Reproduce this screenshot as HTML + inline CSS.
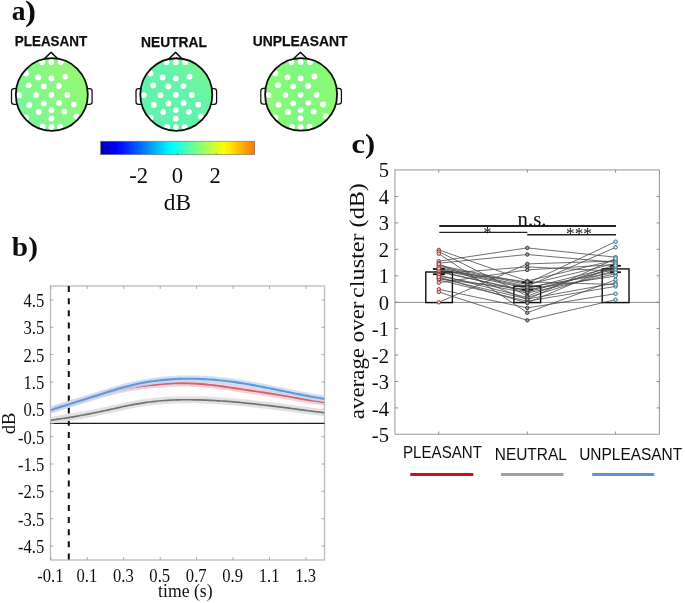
<!DOCTYPE html>
<html><head><meta charset="utf-8"><title>figure</title>
<style>html,body{margin:0;padding:0;background:#fff;}svg{display:block;}text{font-family:"Liberation Serif",serif;fill:#111;}.sans{font-family:"Liberation Sans",sans-serif;}</style></head><body>
<svg width="685" height="603" viewBox="0 0 685 603">
<defs>
<linearGradient id="cb" x1="0" y1="0" x2="1" y2="0"><stop offset="0.00%" stop-color="rgb(0,0,173)"/><stop offset="4.17%" stop-color="rgb(0,0,204)"/><stop offset="8.33%" stop-color="rgb(0,0,234)"/><stop offset="12.50%" stop-color="rgb(0,10,255)"/><stop offset="16.67%" stop-color="rgb(0,40,255)"/><stop offset="20.83%" stop-color="rgb(0,71,255)"/><stop offset="25.00%" stop-color="rgb(0,101,255)"/><stop offset="29.17%" stop-color="rgb(0,132,255)"/><stop offset="33.33%" stop-color="rgb(0,163,255)"/><stop offset="37.50%" stop-color="rgb(0,193,255)"/><stop offset="41.67%" stop-color="rgb(0,224,255)"/><stop offset="45.83%" stop-color="rgb(0,254,255)"/><stop offset="50.00%" stop-color="rgb(30,255,225)"/><stop offset="54.17%" stop-color="rgb(60,255,195)"/><stop offset="58.33%" stop-color="rgb(91,255,164)"/><stop offset="62.50%" stop-color="rgb(121,255,134)"/><stop offset="66.67%" stop-color="rgb(152,255,103)"/><stop offset="70.83%" stop-color="rgb(182,255,73)"/><stop offset="75.00%" stop-color="rgb(213,255,42)"/><stop offset="79.17%" stop-color="rgb(243,255,12)"/><stop offset="83.33%" stop-color="rgb(255,236,0)"/><stop offset="87.50%" stop-color="rgb(255,206,0)"/><stop offset="91.67%" stop-color="rgb(255,175,0)"/><stop offset="95.83%" stop-color="rgb(255,145,0)"/><stop offset="100.00%" stop-color="rgb(255,114,0)"/></linearGradient>
<linearGradient id="hp" x1="0" y1="0.8" x2="1" y2="0.2"><stop offset="0" stop-color="rgb(120,246,158)"/><stop offset="0.45" stop-color="rgb(134,247,134)"/><stop offset="1" stop-color="rgb(150,249,112)"/></linearGradient>
<linearGradient id="hn" x1="0" y1="1" x2="1" y2="0"><stop offset="0" stop-color="rgb(96,242,176)"/><stop offset="0.6" stop-color="rgb(100,243,172)"/><stop offset="1" stop-color="rgb(128,247,136)"/></linearGradient>
<linearGradient id="hu" x1="0" y1="0.5" x2="1" y2="0.5"><stop offset="0" stop-color="rgb(142,250,120)"/><stop offset="0.5" stop-color="rgb(124,247,128)"/><stop offset="1" stop-color="rgb(144,250,116)"/></linearGradient>
<filter id="soft" x="-5%" y="-5%" width="110%" height="110%"><feGaussianBlur stdDeviation="0.55"/></filter>
</defs>
<rect width="685" height="603" fill="#fff"/>
<g filter="url(#soft)">
<text transform="translate(11.80,19.80) scale(1.0,1.0)" font-size="27.5" text-anchor="start" font-weight="bold">a</text>
<text transform="translate(24.90,21.00) scale(1.2,1.07)" font-size="27.5" text-anchor="start" font-weight="bold">)</text>
<g>
<path d="M44.2,58.9 L51.1,52.3 L57.8,58.9" fill="none" stroke="#111" stroke-width="1.5" stroke-linejoin="round"/>
<rect x="11.5" y="88.5" width="7" height="15.8" rx="2.6" ry="2.6" fill="#fff" stroke="#111" stroke-width="1.25"/>
<rect x="85.1" y="88.5" width="7" height="15.8" rx="2.6" ry="2.6" fill="#fff" stroke="#111" stroke-width="1.25"/>
<ellipse cx="51.8" cy="94.5" rx="36.0" ry="36.3" fill="url(#hp)" stroke="none"/>
<clipPath id="chp"><ellipse cx="51.8" cy="94.5" rx="36.0" ry="36.3"/></clipPath>
<g clip-path="url(#chp)" fill="#fff">
<circle cx="42.1" cy="62.1" r="2.9"/>
<circle cx="51.3" cy="62.1" r="2.9"/>
<circle cx="60.7" cy="62.1" r="2.9"/>
<circle cx="26.1" cy="73.4" r="2.9"/>
<circle cx="38.2" cy="77.4" r="2.9"/>
<circle cx="51.3" cy="78.5" r="2.9"/>
<circle cx="65.1" cy="76.6" r="2.9"/>
<circle cx="28.7" cy="85.3" r="2.9"/>
<circle cx="43.9" cy="86.4" r="2.9"/>
<circle cx="58.8" cy="86.0" r="2.9"/>
<circle cx="19.3" cy="95.2" r="2.9"/>
<circle cx="36.0" cy="95.2" r="2.9"/>
<circle cx="51.3" cy="94.9" r="2.9"/>
<circle cx="67.3" cy="94.9" r="2.9"/>
<circle cx="29.2" cy="104.9" r="2.9"/>
<circle cx="43.9" cy="103.4" r="2.9"/>
<circle cx="59.1" cy="102.9" r="2.9"/>
<circle cx="73.8" cy="104.6" r="2.9"/>
<circle cx="38.7" cy="112.0" r="2.9"/>
<circle cx="51.3" cy="110.0" r="2.9"/>
<circle cx="64.3" cy="111.7" r="2.9"/>
<circle cx="26.1" cy="117.5" r="2.9"/>
<circle cx="51.3" cy="118.6" r="2.9"/>
<circle cx="76.5" cy="116.3" r="2.9"/>
<circle cx="42.6" cy="126.7" r="2.9"/>
<circle cx="51.3" cy="127.0" r="2.9"/>
<circle cx="60.2" cy="126.7" r="2.9"/>
</g>
<ellipse cx="51.8" cy="94.5" rx="36.0" ry="36.3" fill="none" stroke="#111" stroke-width="1.8"/>
<text class="sans" x="14.8" y="46.4" font-size="15" font-weight="bold" stroke="#111" stroke-width="0.25" textLength="72.4" lengthAdjust="spacingAndGlyphs">PLEASANT</text>
</g>
<g>
<path d="M168.7,59.0 L175.6,52.4 L182.3,59.0" fill="none" stroke="#111" stroke-width="1.5" stroke-linejoin="round"/>
<rect x="136.0" y="88.6" width="7" height="15.8" rx="2.6" ry="2.6" fill="#fff" stroke="#111" stroke-width="1.25"/>
<rect x="209.6" y="88.6" width="7" height="15.8" rx="2.6" ry="2.6" fill="#fff" stroke="#111" stroke-width="1.25"/>
<ellipse cx="176.3" cy="94.55000000000001" rx="36.0" ry="36.3" fill="url(#hn)" stroke="none"/>
<clipPath id="chn"><ellipse cx="176.3" cy="94.55000000000001" rx="36.0" ry="36.3"/></clipPath>
<g clip-path="url(#chn)" fill="#fff">
<circle cx="166.6" cy="62.2" r="2.9"/>
<circle cx="175.8" cy="62.2" r="2.9"/>
<circle cx="185.2" cy="62.2" r="2.9"/>
<circle cx="150.6" cy="73.5" r="2.9"/>
<circle cx="162.7" cy="77.5" r="2.9"/>
<circle cx="175.8" cy="78.6" r="2.9"/>
<circle cx="189.6" cy="76.7" r="2.9"/>
<circle cx="153.2" cy="85.4" r="2.9"/>
<circle cx="168.4" cy="86.5" r="2.9"/>
<circle cx="183.3" cy="86.1" r="2.9"/>
<circle cx="143.8" cy="95.2" r="2.9"/>
<circle cx="160.5" cy="95.2" r="2.9"/>
<circle cx="175.8" cy="95.0" r="2.9"/>
<circle cx="191.8" cy="95.0" r="2.9"/>
<circle cx="153.7" cy="105.0" r="2.9"/>
<circle cx="168.4" cy="103.5" r="2.9"/>
<circle cx="183.6" cy="103.0" r="2.9"/>
<circle cx="198.3" cy="104.7" r="2.9"/>
<circle cx="163.2" cy="112.1" r="2.9"/>
<circle cx="175.8" cy="110.1" r="2.9"/>
<circle cx="188.8" cy="111.8" r="2.9"/>
<circle cx="150.6" cy="117.6" r="2.9"/>
<circle cx="175.8" cy="118.7" r="2.9"/>
<circle cx="201.0" cy="116.4" r="2.9"/>
<circle cx="167.1" cy="126.8" r="2.9"/>
<circle cx="175.8" cy="127.1" r="2.9"/>
<circle cx="184.7" cy="126.8" r="2.9"/>
</g>
<ellipse cx="176.3" cy="94.55000000000001" rx="36.0" ry="36.3" fill="none" stroke="#111" stroke-width="1.8"/>
<text class="sans" x="141.0" y="47.4" font-size="15" font-weight="bold" stroke="#111" stroke-width="0.25" textLength="65.9" lengthAdjust="spacingAndGlyphs">NEUTRAL</text>
</g>
<g>
<path d="M293.5,58.8 L300.4,52.2 L307.1,58.8" fill="none" stroke="#111" stroke-width="1.5" stroke-linejoin="round"/>
<rect x="260.8" y="88.4" width="7" height="15.8" rx="2.6" ry="2.6" fill="#fff" stroke="#111" stroke-width="1.25"/>
<rect x="334.4" y="88.4" width="7" height="15.8" rx="2.6" ry="2.6" fill="#fff" stroke="#111" stroke-width="1.25"/>
<ellipse cx="301.1" cy="94.4" rx="36.0" ry="36.3" fill="url(#hu)" stroke="none"/>
<clipPath id="chu"><ellipse cx="301.1" cy="94.4" rx="36.0" ry="36.3"/></clipPath>
<g clip-path="url(#chu)" fill="#fff">
<circle cx="291.4" cy="62.0" r="2.9"/>
<circle cx="300.6" cy="62.0" r="2.9"/>
<circle cx="310.0" cy="62.0" r="2.9"/>
<circle cx="275.4" cy="73.3" r="2.9"/>
<circle cx="287.5" cy="77.3" r="2.9"/>
<circle cx="300.6" cy="78.4" r="2.9"/>
<circle cx="314.4" cy="76.5" r="2.9"/>
<circle cx="278.0" cy="85.2" r="2.9"/>
<circle cx="293.2" cy="86.3" r="2.9"/>
<circle cx="308.1" cy="85.9" r="2.9"/>
<circle cx="268.6" cy="95.1" r="2.9"/>
<circle cx="285.3" cy="95.1" r="2.9"/>
<circle cx="300.6" cy="94.8" r="2.9"/>
<circle cx="316.6" cy="94.8" r="2.9"/>
<circle cx="278.5" cy="104.8" r="2.9"/>
<circle cx="293.2" cy="103.3" r="2.9"/>
<circle cx="308.4" cy="102.8" r="2.9"/>
<circle cx="323.1" cy="104.5" r="2.9"/>
<circle cx="288.0" cy="111.9" r="2.9"/>
<circle cx="300.6" cy="109.9" r="2.9"/>
<circle cx="313.6" cy="111.6" r="2.9"/>
<circle cx="275.4" cy="117.4" r="2.9"/>
<circle cx="300.6" cy="118.5" r="2.9"/>
<circle cx="325.8" cy="116.2" r="2.9"/>
<circle cx="291.9" cy="126.6" r="2.9"/>
<circle cx="300.6" cy="126.9" r="2.9"/>
<circle cx="309.5" cy="126.6" r="2.9"/>
</g>
<ellipse cx="301.1" cy="94.4" rx="36.0" ry="36.3" fill="none" stroke="#111" stroke-width="1.8"/>
<text class="sans" x="252.8" y="46.0" font-size="15" font-weight="bold" stroke="#111" stroke-width="0.25" textLength="94.8" lengthAdjust="spacingAndGlyphs">UNPLEASANT</text>
</g>
<rect x="100.5" y="141.2" width="154.2" height="13.5" fill="url(#cb)" stroke="#777" stroke-width="0.6"/>
<line x1="138.9" y1="154.7" x2="138.9" y2="153.2" stroke="#444" stroke-width="0.6"/>
<line x1="177.5" y1="154.7" x2="177.5" y2="153.2" stroke="#444" stroke-width="0.6"/>
<line x1="216.1" y1="154.7" x2="216.1" y2="153.2" stroke="#444" stroke-width="0.6"/>
<text x="138.6" y="182.7" font-size="22.6" text-anchor="middle">-2</text>
<text x="177.4" y="182.7" font-size="22.6" text-anchor="middle">0</text>
<text x="215.2" y="182.7" font-size="22.6" text-anchor="middle">2</text>
<text x="177.4" y="210" font-size="23.4" text-anchor="middle">dB</text>
<text transform="translate(11.80,256.40) scale(1.05,1.0)" font-size="28" text-anchor="start" font-weight="bold">b)</text>
<rect x="50.5" y="286" width="274.0" height="274" fill="#fff" stroke="#bcbcbc" stroke-width="1.3"/>
<line x1="50.8" y1="560" x2="50.8" y2="557" stroke="#999" stroke-width="0.8"/>
<line x1="50.8" y1="286" x2="50.8" y2="289" stroke="#999" stroke-width="0.8"/>
<text transform="translate(50.37,582.20) scale(0.89,1.0)" font-size="18.7" text-anchor="middle" >-0.1</text>
<line x1="87.2" y1="560" x2="87.2" y2="557" stroke="#999" stroke-width="0.8"/>
<line x1="87.2" y1="286" x2="87.2" y2="289" stroke="#999" stroke-width="0.8"/>
<text transform="translate(86.83,582.20) scale(0.89,1.0)" font-size="18.7" text-anchor="middle" >0.1</text>
<line x1="123.7" y1="560" x2="123.7" y2="557" stroke="#999" stroke-width="0.8"/>
<line x1="123.7" y1="286" x2="123.7" y2="289" stroke="#999" stroke-width="0.8"/>
<text transform="translate(123.29,582.20) scale(0.89,1.0)" font-size="18.7" text-anchor="middle" >0.3</text>
<line x1="160.2" y1="560" x2="160.2" y2="557" stroke="#999" stroke-width="0.8"/>
<line x1="160.2" y1="286" x2="160.2" y2="289" stroke="#999" stroke-width="0.8"/>
<text transform="translate(159.75,582.20) scale(0.89,1.0)" font-size="18.7" text-anchor="middle" >0.5</text>
<line x1="196.6" y1="560" x2="196.6" y2="557" stroke="#999" stroke-width="0.8"/>
<line x1="196.6" y1="286" x2="196.6" y2="289" stroke="#999" stroke-width="0.8"/>
<text transform="translate(196.21,582.20) scale(0.89,1.0)" font-size="18.7" text-anchor="middle" >0.7</text>
<line x1="233.1" y1="560" x2="233.1" y2="557" stroke="#999" stroke-width="0.8"/>
<line x1="233.1" y1="286" x2="233.1" y2="289" stroke="#999" stroke-width="0.8"/>
<text transform="translate(232.67,582.20) scale(0.89,1.0)" font-size="18.7" text-anchor="middle" >0.9</text>
<line x1="269.5" y1="560" x2="269.5" y2="557" stroke="#999" stroke-width="0.8"/>
<line x1="269.5" y1="286" x2="269.5" y2="289" stroke="#999" stroke-width="0.8"/>
<text transform="translate(269.13,582.20) scale(0.89,1.0)" font-size="18.7" text-anchor="middle" >1.1</text>
<line x1="306.0" y1="560" x2="306.0" y2="557" stroke="#999" stroke-width="0.8"/>
<line x1="306.0" y1="286" x2="306.0" y2="289" stroke="#999" stroke-width="0.8"/>
<text transform="translate(305.59,582.20) scale(0.89,1.0)" font-size="18.7" text-anchor="middle" >1.3</text>
<line x1="50.5" y1="546.1" x2="53.5" y2="546.1" stroke="#999" stroke-width="0.8"/>
<line x1="324.5" y1="546.1" x2="321.5" y2="546.1" stroke="#999" stroke-width="0.8"/>
<text transform="translate(44.30,552.98) scale(0.89,1.0)" font-size="18.7" text-anchor="end" >-4.5</text>
<line x1="50.5" y1="518.7" x2="53.5" y2="518.7" stroke="#999" stroke-width="0.8"/>
<line x1="324.5" y1="518.7" x2="321.5" y2="518.7" stroke="#999" stroke-width="0.8"/>
<text transform="translate(44.30,525.62) scale(0.89,1.0)" font-size="18.7" text-anchor="end" >-3.5</text>
<line x1="50.5" y1="491.4" x2="53.5" y2="491.4" stroke="#999" stroke-width="0.8"/>
<line x1="324.5" y1="491.4" x2="321.5" y2="491.4" stroke="#999" stroke-width="0.8"/>
<text transform="translate(44.30,498.27) scale(0.89,1.0)" font-size="18.7" text-anchor="end" >-2.5</text>
<line x1="50.5" y1="464.0" x2="53.5" y2="464.0" stroke="#999" stroke-width="0.8"/>
<line x1="324.5" y1="464.0" x2="321.5" y2="464.0" stroke="#999" stroke-width="0.8"/>
<text transform="translate(44.30,470.92) scale(0.89,1.0)" font-size="18.7" text-anchor="end" >-1.5</text>
<line x1="50.5" y1="436.7" x2="53.5" y2="436.7" stroke="#999" stroke-width="0.8"/>
<line x1="324.5" y1="436.7" x2="321.5" y2="436.7" stroke="#999" stroke-width="0.8"/>
<text transform="translate(44.30,443.57) scale(0.89,1.0)" font-size="18.7" text-anchor="end" >-0.5</text>
<line x1="50.5" y1="409.3" x2="53.5" y2="409.3" stroke="#999" stroke-width="0.8"/>
<line x1="324.5" y1="409.3" x2="321.5" y2="409.3" stroke="#999" stroke-width="0.8"/>
<text transform="translate(44.30,416.22) scale(0.89,1.0)" font-size="18.7" text-anchor="end" >0.5</text>
<line x1="50.5" y1="382.0" x2="53.5" y2="382.0" stroke="#999" stroke-width="0.8"/>
<line x1="324.5" y1="382.0" x2="321.5" y2="382.0" stroke="#999" stroke-width="0.8"/>
<text transform="translate(44.30,388.88) scale(0.89,1.0)" font-size="18.7" text-anchor="end" >1.5</text>
<line x1="50.5" y1="354.6" x2="53.5" y2="354.6" stroke="#999" stroke-width="0.8"/>
<line x1="324.5" y1="354.6" x2="321.5" y2="354.6" stroke="#999" stroke-width="0.8"/>
<text transform="translate(44.30,361.52) scale(0.89,1.0)" font-size="18.7" text-anchor="end" >2.5</text>
<line x1="50.5" y1="327.3" x2="53.5" y2="327.3" stroke="#999" stroke-width="0.8"/>
<line x1="324.5" y1="327.3" x2="321.5" y2="327.3" stroke="#999" stroke-width="0.8"/>
<text transform="translate(44.30,334.17) scale(0.89,1.0)" font-size="18.7" text-anchor="end" >3.5</text>
<line x1="50.5" y1="299.9" x2="53.5" y2="299.9" stroke="#999" stroke-width="0.8"/>
<line x1="324.5" y1="299.9" x2="321.5" y2="299.9" stroke="#999" stroke-width="0.8"/>
<text transform="translate(44.30,306.82) scale(0.89,1.0)" font-size="18.7" text-anchor="end" >4.5</text>
<text transform="translate(185.30,597.20) scale(0.95,1.0)" font-size="18.6" text-anchor="middle" >time (s)</text>
<text transform="translate(15.4,423.4) rotate(-90) scale(0.95,1)" font-size="19.5" text-anchor="middle">dB</text>
<line x1="50.5" y1="423.25" x2="324.5" y2="423.25" stroke="#1c1c1c" stroke-width="1.25"/>
<line x1="68.8" y1="286" x2="68.8" y2="560" stroke="#111" stroke-width="2" stroke-dasharray="6,6.16"/>
<clipPath id="cbx"><rect x="50.5" y="286" width="274.0" height="274"/></clipPath>
<g clip-path="url(#cbx)" fill="none" stroke-linecap="butt">
<path d="M50.5,420.29 L53.5,419.85 L56.5,419.41 L59.5,418.96 L62.5,418.51 L65.5,418.04 L68.5,417.56 L71.5,417.07 L74.5,416.56 L77.5,416.05 L80.5,415.51 L83.5,414.97 L86.5,414.40 L89.5,413.83 L92.5,413.24 L95.5,412.63 L98.5,412.01 L101.5,411.38 L104.5,410.73 L107.5,410.07 L110.5,409.41 L113.5,408.74 L116.5,408.08 L119.5,407.42 L122.5,406.77 L125.5,406.13 L128.5,405.51 L131.5,404.91 L134.5,404.34 L137.5,403.80 L140.5,403.29 L143.5,402.82 L146.5,402.39 L149.5,401.99 L152.5,401.62 L155.5,401.30 L158.5,401.00 L161.5,400.74 L164.5,400.52 L167.5,400.32 L170.5,400.15 L173.5,400.01 L176.5,399.91 L179.5,399.82 L182.5,399.77 L185.5,399.74 L188.5,399.73 L191.5,399.75 L194.5,399.79 L197.5,399.85 L200.5,399.93 L203.5,400.03 L206.5,400.14 L209.5,400.28 L212.5,400.43 L215.5,400.60 L218.5,400.78 L221.5,400.98 L224.5,401.20 L227.5,401.43 L230.5,401.67 L233.5,401.92 L236.5,402.18 L239.5,402.46 L242.5,402.75 L245.5,403.04 L248.5,403.34 L251.5,403.66 L254.5,403.97 L257.5,404.30 L260.5,404.64 L263.5,404.98 L266.5,405.33 L269.5,405.68 L272.5,406.04 L275.5,406.41 L278.5,406.79 L281.5,407.17 L284.5,407.56 L287.5,407.95 L290.5,408.34 L293.5,408.74 L296.5,409.14 L299.5,409.54 L302.5,409.93 L305.5,410.33 L308.5,410.72 L311.5,411.12 L314.5,411.51 L317.5,411.90 L320.5,412.28 L323.5,412.67 L324.5,412.80" stroke="#dedede" stroke-width="7" opacity="0.9"/>
<path d="M50.5,420.29 L53.5,419.85 L56.5,419.41 L59.5,418.96 L62.5,418.51 L65.5,418.04 L68.5,417.56 L71.5,417.07 L74.5,416.56 L77.5,416.05 L80.5,415.51 L83.5,414.97 L86.5,414.40 L89.5,413.83 L92.5,413.24 L95.5,412.63 L98.5,412.01 L101.5,411.38 L104.5,410.73 L107.5,410.07 L110.5,409.41 L113.5,408.74 L116.5,408.08 L119.5,407.42 L122.5,406.77 L125.5,406.13 L128.5,405.51 L131.5,404.91 L134.5,404.34 L137.5,403.80 L140.5,403.29 L143.5,402.82 L146.5,402.39 L149.5,401.99 L152.5,401.62 L155.5,401.30 L158.5,401.00 L161.5,400.74 L164.5,400.52 L167.5,400.32 L170.5,400.15 L173.5,400.01 L176.5,399.91 L179.5,399.82 L182.5,399.77 L185.5,399.74 L188.5,399.73 L191.5,399.75 L194.5,399.79 L197.5,399.85 L200.5,399.93 L203.5,400.03 L206.5,400.14 L209.5,400.28 L212.5,400.43 L215.5,400.60 L218.5,400.78 L221.5,400.98 L224.5,401.20 L227.5,401.43 L230.5,401.67 L233.5,401.92 L236.5,402.18 L239.5,402.46 L242.5,402.75 L245.5,403.04 L248.5,403.34 L251.5,403.66 L254.5,403.97 L257.5,404.30 L260.5,404.64 L263.5,404.98 L266.5,405.33 L269.5,405.68 L272.5,406.04 L275.5,406.41 L278.5,406.79 L281.5,407.17 L284.5,407.56 L287.5,407.95 L290.5,408.34 L293.5,408.74 L296.5,409.14 L299.5,409.54 L302.5,409.93 L305.5,410.33 L308.5,410.72 L311.5,411.12 L314.5,411.51 L317.5,411.90 L320.5,412.28 L323.5,412.67 L324.5,412.80" stroke="#737373" stroke-width="1.7"/>
<path d="M50.5,409.81 L53.5,408.89 L56.5,407.98 L59.5,407.06 L62.5,406.16 L65.5,405.25 L68.5,404.35 L71.5,403.46 L74.5,402.57 L77.5,401.68 L80.5,400.79 L83.5,399.90 L86.5,399.01 L89.5,398.12 L92.5,397.23 L95.5,396.34 L98.5,395.45 L101.5,394.57 L104.5,393.71 L107.5,392.86 L110.5,392.05 L113.5,391.27 L116.5,390.53 L119.5,389.85 L122.5,389.22 L125.5,388.64 L128.5,388.11 L131.5,387.62 L134.5,387.17 L137.5,386.75 L140.5,386.36 L143.5,385.99 L146.5,385.63 L149.5,385.30 L152.5,384.98 L155.5,384.68 L158.5,384.40 L161.5,384.14 L164.5,383.91 L167.5,383.71 L170.5,383.54 L173.5,383.41 L176.5,383.31 L179.5,383.26 L182.5,383.24 L185.5,383.27 L188.5,383.34 L191.5,383.45 L194.5,383.60 L197.5,383.79 L200.5,384.01 L203.5,384.26 L206.5,384.54 L209.5,384.85 L212.5,385.18 L215.5,385.53 L218.5,385.91 L221.5,386.31 L224.5,386.72 L227.5,387.14 L230.5,387.57 L233.5,388.01 L236.5,388.46 L239.5,388.91 L242.5,389.36 L245.5,389.82 L248.5,390.27 L251.5,390.72 L254.5,391.17 L257.5,391.63 L260.5,392.08 L263.5,392.54 L266.5,393.00 L269.5,393.46 L272.5,393.93 L275.5,394.41 L278.5,394.90 L281.5,395.39 L284.5,395.89 L287.5,396.40 L290.5,396.91 L293.5,397.43 L296.5,397.94 L299.5,398.45 L302.5,398.96 L305.5,399.46 L308.5,399.95 L311.5,400.44 L314.5,400.92 L317.5,401.40 L320.5,401.87 L323.5,402.34 L324.5,402.49" stroke="#f4ccd2" stroke-width="6.5" opacity="0.9"/>
<path d="M50.5,409.81 L53.5,408.89 L56.5,407.98 L59.5,407.06 L62.5,406.16 L65.5,405.25 L68.5,404.35 L71.5,403.46 L74.5,402.57 L77.5,401.68 L80.5,400.79 L83.5,399.90 L86.5,399.01 L89.5,398.12 L92.5,397.23 L95.5,396.34 L98.5,395.45 L101.5,394.57 L104.5,393.71 L107.5,392.86 L110.5,392.05 L113.5,391.27 L116.5,390.53 L119.5,389.85 L122.5,389.22 L125.5,388.64 L128.5,388.11 L131.5,387.62 L134.5,387.17 L137.5,386.75 L140.5,386.36 L143.5,385.99 L146.5,385.63 L149.5,385.30 L152.5,384.98 L155.5,384.68 L158.5,384.40 L161.5,384.14 L164.5,383.91 L167.5,383.71 L170.5,383.54 L173.5,383.41 L176.5,383.31 L179.5,383.26 L182.5,383.24 L185.5,383.27 L188.5,383.34 L191.5,383.45 L194.5,383.60 L197.5,383.79 L200.5,384.01 L203.5,384.26 L206.5,384.54 L209.5,384.85 L212.5,385.18 L215.5,385.53 L218.5,385.91 L221.5,386.31 L224.5,386.72 L227.5,387.14 L230.5,387.57 L233.5,388.01 L236.5,388.46 L239.5,388.91 L242.5,389.36 L245.5,389.82 L248.5,390.27 L251.5,390.72 L254.5,391.17 L257.5,391.63 L260.5,392.08 L263.5,392.54 L266.5,393.00 L269.5,393.46 L272.5,393.93 L275.5,394.41 L278.5,394.90 L281.5,395.39 L284.5,395.89 L287.5,396.40 L290.5,396.91 L293.5,397.43 L296.5,397.94 L299.5,398.45 L302.5,398.96 L305.5,399.46 L308.5,399.95 L311.5,400.44 L314.5,400.92 L317.5,401.40 L320.5,401.87 L323.5,402.34 L324.5,402.49" stroke="#d2626c" stroke-width="1.9"/>
<path d="M50.5,410.31 L53.5,409.32 L56.5,408.33 L59.5,407.34 L62.5,406.36 L65.5,405.39 L68.5,404.43 L71.5,403.47 L74.5,402.52 L77.5,401.58 L80.5,400.63 L83.5,399.69 L86.5,398.75 L89.5,397.80 L92.5,396.84 L95.5,395.88 L98.5,394.92 L101.5,393.95 L104.5,392.99 L107.5,392.03 L110.5,391.08 L113.5,390.15 L116.5,389.24 L119.5,388.35 L122.5,387.50 L125.5,386.68 L128.5,385.90 L131.5,385.16 L134.5,384.46 L137.5,383.81 L140.5,383.21 L143.5,382.65 L146.5,382.14 L149.5,381.66 L152.5,381.23 L155.5,380.84 L158.5,380.48 L161.5,380.15 L164.5,379.86 L167.5,379.59 L170.5,379.36 L173.5,379.17 L176.5,379.00 L179.5,378.87 L182.5,378.78 L185.5,378.72 L188.5,378.70 L191.5,378.71 L194.5,378.76 L197.5,378.84 L200.5,378.94 L203.5,379.08 L206.5,379.24 L209.5,379.44 L212.5,379.66 L215.5,379.91 L218.5,380.19 L221.5,380.49 L224.5,380.82 L227.5,381.18 L230.5,381.57 L233.5,381.97 L236.5,382.41 L239.5,382.86 L242.5,383.33 L245.5,383.82 L248.5,384.33 L251.5,384.86 L254.5,385.40 L257.5,385.96 L260.5,386.53 L263.5,387.10 L266.5,387.69 L269.5,388.29 L272.5,388.89 L275.5,389.50 L278.5,390.11 L281.5,390.72 L284.5,391.34 L287.5,391.95 L290.5,392.57 L293.5,393.17 L296.5,393.78 L299.5,394.37 L302.5,394.96 L305.5,395.53 L308.5,396.10 L311.5,396.66 L314.5,397.21 L317.5,397.75 L320.5,398.28 L323.5,398.82 L324.5,398.99" stroke="#c2d9f5" stroke-width="6.6" opacity="0.8"/>
<path d="M50.5,410.31 L53.5,409.32 L56.5,408.33 L59.5,407.34 L62.5,406.36 L65.5,405.39 L68.5,404.43 L71.5,403.47 L74.5,402.52 L77.5,401.58 L80.5,400.63 L83.5,399.69 L86.5,398.75 L89.5,397.80 L92.5,396.84 L95.5,395.88 L98.5,394.92 L101.5,393.95 L104.5,392.99 L107.5,392.03 L110.5,391.08 L113.5,390.15 L116.5,389.24 L119.5,388.35 L122.5,387.50 L125.5,386.68 L128.5,385.90 L131.5,385.16 L134.5,384.46 L137.5,383.81 L140.5,383.21 L143.5,382.65 L146.5,382.14 L149.5,381.66 L152.5,381.23 L155.5,380.84 L158.5,380.48 L161.5,380.15 L164.5,379.86 L167.5,379.59 L170.5,379.36 L173.5,379.17 L176.5,379.00 L179.5,378.87 L182.5,378.78 L185.5,378.72 L188.5,378.70 L191.5,378.71 L194.5,378.76 L197.5,378.84 L200.5,378.94 L203.5,379.08 L206.5,379.24 L209.5,379.44 L212.5,379.66 L215.5,379.91 L218.5,380.19 L221.5,380.49 L224.5,380.82 L227.5,381.18 L230.5,381.57 L233.5,381.97 L236.5,382.41 L239.5,382.86 L242.5,383.33 L245.5,383.82 L248.5,384.33 L251.5,384.86 L254.5,385.40 L257.5,385.96 L260.5,386.53 L263.5,387.10 L266.5,387.69 L269.5,388.29 L272.5,388.89 L275.5,389.50 L278.5,390.11 L281.5,390.72 L284.5,391.34 L287.5,391.95 L290.5,392.57 L293.5,393.17 L296.5,393.78 L299.5,394.37 L302.5,394.96 L305.5,395.53 L308.5,396.10 L311.5,396.66 L314.5,397.21 L317.5,397.75 L320.5,398.28 L323.5,398.82 L324.5,398.99" stroke="#6996d6" stroke-width="2.1"/>
</g>
<text transform="translate(351.50,153.20) scale(1.09,1.0)" font-size="28" text-anchor="start" font-weight="bold">c)</text>
<rect x="394.9" y="169.9" width="264.5" height="264.4" fill="#fff" stroke="none"/>
<path d="M394.9,434.3 L394.9,169.9 L659.4,169.9" fill="none" stroke="#c2c2c2" stroke-width="1.7" stroke-linejoin="miter"/>
<path d="M394.9,434.3 L659.4,434.3 L659.4,169.9" fill="none" stroke="#9c9c9c" stroke-width="1.1" stroke-linejoin="miter"/>
<text transform="translate(389.00,442.45) scale(0.98,1.0)" font-size="21" text-anchor="end" >-5</text>
<line x1="394.9" y1="407.9" x2="398.09999999999997" y2="407.9" stroke="#777" stroke-width="0.8"/>
<line x1="659.4" y1="407.9" x2="656.6" y2="407.9" stroke="#777" stroke-width="0.8"/>
<text transform="translate(389.00,415.90) scale(0.98,1.0)" font-size="21" text-anchor="end" >-4</text>
<line x1="394.9" y1="381.5" x2="398.09999999999997" y2="381.5" stroke="#777" stroke-width="0.8"/>
<line x1="659.4" y1="381.5" x2="656.6" y2="381.5" stroke="#777" stroke-width="0.8"/>
<text transform="translate(389.00,389.35) scale(0.98,1.0)" font-size="21" text-anchor="end" >-3</text>
<line x1="394.9" y1="355.1" x2="398.09999999999997" y2="355.1" stroke="#777" stroke-width="0.8"/>
<line x1="659.4" y1="355.1" x2="656.6" y2="355.1" stroke="#777" stroke-width="0.8"/>
<text transform="translate(389.00,362.80) scale(0.98,1.0)" font-size="21" text-anchor="end" >-2</text>
<line x1="394.9" y1="328.6" x2="398.09999999999997" y2="328.6" stroke="#777" stroke-width="0.8"/>
<line x1="659.4" y1="328.6" x2="656.6" y2="328.6" stroke="#777" stroke-width="0.8"/>
<text transform="translate(389.00,336.25) scale(0.98,1.0)" font-size="21" text-anchor="end" >-1</text>
<line x1="394.9" y1="302.2" x2="398.09999999999997" y2="302.2" stroke="#777" stroke-width="0.8"/>
<line x1="659.4" y1="302.2" x2="656.6" y2="302.2" stroke="#777" stroke-width="0.8"/>
<text transform="translate(389.00,309.70) scale(0.98,1.0)" font-size="21" text-anchor="end" >0</text>
<line x1="394.9" y1="275.8" x2="398.09999999999997" y2="275.8" stroke="#777" stroke-width="0.8"/>
<line x1="659.4" y1="275.8" x2="656.6" y2="275.8" stroke="#777" stroke-width="0.8"/>
<text transform="translate(389.00,283.15) scale(0.98,1.0)" font-size="21" text-anchor="end" >1</text>
<line x1="394.9" y1="249.3" x2="398.09999999999997" y2="249.3" stroke="#777" stroke-width="0.8"/>
<line x1="659.4" y1="249.3" x2="656.6" y2="249.3" stroke="#777" stroke-width="0.8"/>
<text transform="translate(389.00,256.60) scale(0.98,1.0)" font-size="21" text-anchor="end" >2</text>
<line x1="394.9" y1="222.9" x2="398.09999999999997" y2="222.9" stroke="#777" stroke-width="0.8"/>
<line x1="659.4" y1="222.9" x2="656.6" y2="222.9" stroke="#777" stroke-width="0.8"/>
<text transform="translate(389.00,230.05) scale(0.98,1.0)" font-size="21" text-anchor="end" >3</text>
<line x1="394.9" y1="196.5" x2="398.09999999999997" y2="196.5" stroke="#777" stroke-width="0.8"/>
<line x1="659.4" y1="196.5" x2="656.6" y2="196.5" stroke="#777" stroke-width="0.8"/>
<text transform="translate(389.00,203.50) scale(0.98,1.0)" font-size="21" text-anchor="end" >4</text>
<text transform="translate(389.00,176.95) scale(0.98,1.0)" font-size="21" text-anchor="end" >5</text>
<line x1="438.8" y1="434.3" x2="438.8" y2="431.5" stroke="#777" stroke-width="0.8"/>
<line x1="438.8" y1="169.9" x2="438.8" y2="172.70000000000002" stroke="#777" stroke-width="0.8"/>
<line x1="527.3" y1="434.3" x2="527.3" y2="431.5" stroke="#777" stroke-width="0.8"/>
<line x1="527.3" y1="169.9" x2="527.3" y2="172.70000000000002" stroke="#777" stroke-width="0.8"/>
<line x1="615.6" y1="434.3" x2="615.6" y2="431.5" stroke="#777" stroke-width="0.8"/>
<line x1="615.6" y1="169.9" x2="615.6" y2="172.70000000000002" stroke="#777" stroke-width="0.8"/>
<line x1="394.9" y1="302.4" x2="659.4" y2="302.4" stroke="#808080" stroke-width="0.9"/>
<text transform="translate(364.0,419.2) rotate(-90) scale(1.118,1)" font-size="20.5" text-anchor="start">average over</text>
<text transform="translate(364.0,297.9) rotate(-90) scale(1.18,1)" font-size="20.5" text-anchor="start">cluster (dB)</text>
<rect x="425.8" y="272.0" width="26.6" height="30.6" fill="none" stroke="#111" stroke-width="1.4"/>
<rect x="513.9" y="286.2" width="26.7" height="16.4" fill="none" stroke="#111" stroke-width="1.4"/>
<rect x="602.2" y="268.9" width="26.8" height="33.7" fill="none" stroke="#111" stroke-width="1.4"/>
<g fill="none" stroke="#2c2c2c" stroke-width="0.8" opacity="0.85">
<polyline points="438.8,249.9 527.3,281 615.6,259.9"/>
<polyline points="438.8,251.6 527.3,296 615.6,264.5"/>
<polyline points="438.8,253.7 527.3,312.7 615.6,279.8"/>
<polyline points="438.8,261.2 527.3,247.9 615.6,257.2"/>
<polyline points="438.8,263.2 527.3,254.5 615.6,262.3"/>
<polyline points="438.8,265.3 527.3,283.3 615.6,241.7"/>
<polyline points="438.8,267.6 527.3,286.3 615.6,247.3"/>
<polyline points="438.8,269.6 527.3,288.5 615.6,266.5"/>
<polyline points="438.8,272 527.3,290.7 615.6,269.2"/>
<polyline points="438.8,273.7 527.3,266.9 615.6,271.2"/>
<polyline points="438.8,276 527.3,293 615.6,273.8"/>
<polyline points="438.8,278 527.3,299 615.6,283.1"/>
<polyline points="438.8,280 527.3,301.2 615.6,286.4"/>
<polyline points="438.8,282.7 527.3,269.9 615.6,264.5"/>
<polyline points="438.8,289.3 527.3,307.9 615.6,293.7"/>
<polyline points="438.8,292 527.3,320.3 615.6,299.7"/>
<polyline points="438.8,302.3 527.3,263.9 615.6,261"/>
<polyline points="438.8,266.4 527.3,284.5 615.6,263.4"/>
<polyline points="438.8,271 527.3,292 615.6,268"/>
<polyline points="438.8,275 527.3,297.5 615.6,270.3"/>
<polyline points="438.8,279 527.3,289.5 615.6,276"/>
<polyline points="438.8,264 527.3,299.5 615.6,258.5"/>
<polyline points="438.8,270.5 527.3,281.8 615.6,284.5"/>
<polyline points="438.8,277 527.3,303 615.6,265.5"/>
<polyline points="438.8,268.5 527.3,287.4 615.6,272.5"/>
</g>
<line x1="432.9" y1="269.0" x2="444.9" y2="269.0" stroke="#111" stroke-width="1.7"/>
<line x1="432.9" y1="274.2" x2="444.9" y2="274.2" stroke="#111" stroke-width="1.7"/>
<line x1="438.9" y1="269.0" x2="438.9" y2="274.2" stroke="#111" stroke-width="1.0"/>
<line x1="521.6" y1="282.3" x2="532.8000000000001" y2="282.3" stroke="#111" stroke-width="1.7"/>
<line x1="521.6" y1="289.7" x2="532.8000000000001" y2="289.7" stroke="#111" stroke-width="1.7"/>
<line x1="527.2" y1="282.3" x2="527.2" y2="289.7" stroke="#111" stroke-width="1.0"/>
<line x1="610.1" y1="265.8" x2="620.9" y2="265.8" stroke="#111" stroke-width="1.7"/>
<line x1="610.1" y1="272.2" x2="620.9" y2="272.2" stroke="#111" stroke-width="1.7"/>
<line x1="615.5" y1="265.8" x2="615.5" y2="272.2" stroke="#111" stroke-width="1.0"/>
<g stroke="#8a3434" fill="#ecc4c4" stroke-width="0.9">
<circle cx="438.8" cy="249.9" r="1.75"/>
<circle cx="438.8" cy="251.6" r="1.75"/>
<circle cx="438.8" cy="253.7" r="1.75"/>
<circle cx="438.8" cy="261.2" r="1.75"/>
<circle cx="438.8" cy="263.2" r="1.75"/>
<circle cx="438.8" cy="265.3" r="1.75"/>
<circle cx="438.8" cy="267.6" r="1.75"/>
<circle cx="438.8" cy="269.6" r="1.75"/>
<circle cx="438.8" cy="272" r="1.75"/>
<circle cx="438.8" cy="273.7" r="1.75"/>
<circle cx="438.8" cy="276" r="1.75"/>
<circle cx="438.8" cy="278" r="1.75"/>
<circle cx="438.8" cy="280" r="1.75"/>
<circle cx="438.8" cy="282.7" r="1.75"/>
<circle cx="438.8" cy="289.3" r="1.75"/>
<circle cx="438.8" cy="292" r="1.75"/>
<circle cx="438.8" cy="302.3" r="1.75"/>
<circle cx="438.8" cy="266.4" r="1.75"/>
<circle cx="438.8" cy="271" r="1.75"/>
<circle cx="438.8" cy="275" r="1.75"/>
<circle cx="438.8" cy="279" r="1.75"/>
<circle cx="438.8" cy="264" r="1.75"/>
<circle cx="438.8" cy="270.5" r="1.75"/>
<circle cx="438.8" cy="277" r="1.75"/>
<circle cx="438.8" cy="268.5" r="1.75"/>
</g>
<g stroke="#2e2e2e" fill="#9a9a9a" stroke-width="0.9">
<circle cx="527.3" cy="281" r="1.75"/>
<circle cx="527.3" cy="296" r="1.75"/>
<circle cx="527.3" cy="312.7" r="1.75"/>
<circle cx="527.3" cy="247.9" r="1.75"/>
<circle cx="527.3" cy="254.5" r="1.75"/>
<circle cx="527.3" cy="283.3" r="1.75"/>
<circle cx="527.3" cy="286.3" r="1.75"/>
<circle cx="527.3" cy="288.5" r="1.75"/>
<circle cx="527.3" cy="290.7" r="1.75"/>
<circle cx="527.3" cy="266.9" r="1.75"/>
<circle cx="527.3" cy="293" r="1.75"/>
<circle cx="527.3" cy="299" r="1.75"/>
<circle cx="527.3" cy="301.2" r="1.75"/>
<circle cx="527.3" cy="269.9" r="1.75"/>
<circle cx="527.3" cy="307.9" r="1.75"/>
<circle cx="527.3" cy="320.3" r="1.75"/>
<circle cx="527.3" cy="263.9" r="1.75"/>
<circle cx="527.3" cy="284.5" r="1.75"/>
<circle cx="527.3" cy="292" r="1.75"/>
<circle cx="527.3" cy="297.5" r="1.75"/>
<circle cx="527.3" cy="289.5" r="1.75"/>
<circle cx="527.3" cy="299.5" r="1.75"/>
<circle cx="527.3" cy="281.8" r="1.75"/>
<circle cx="527.3" cy="303" r="1.75"/>
<circle cx="527.3" cy="287.4" r="1.75"/>
</g>
<g stroke="#2f6079" fill="#cfe8f5" stroke-width="0.9">
<circle cx="615.6" cy="259.9" r="1.75"/>
<circle cx="615.6" cy="264.5" r="1.75"/>
<circle cx="615.6" cy="279.8" r="1.75"/>
<circle cx="615.6" cy="257.2" r="1.75"/>
<circle cx="615.6" cy="262.3" r="1.75"/>
<circle cx="615.6" cy="241.7" r="1.75"/>
<circle cx="615.6" cy="247.3" r="1.75"/>
<circle cx="615.6" cy="266.5" r="1.75"/>
<circle cx="615.6" cy="269.2" r="1.75"/>
<circle cx="615.6" cy="271.2" r="1.75"/>
<circle cx="615.6" cy="273.8" r="1.75"/>
<circle cx="615.6" cy="283.1" r="1.75"/>
<circle cx="615.6" cy="286.4" r="1.75"/>
<circle cx="615.6" cy="264.5" r="1.75"/>
<circle cx="615.6" cy="293.7" r="1.75"/>
<circle cx="615.6" cy="299.7" r="1.75"/>
<circle cx="615.6" cy="261" r="1.75"/>
<circle cx="615.6" cy="263.4" r="1.75"/>
<circle cx="615.6" cy="268" r="1.75"/>
<circle cx="615.6" cy="270.3" r="1.75"/>
<circle cx="615.6" cy="276" r="1.75"/>
<circle cx="615.6" cy="258.5" r="1.75"/>
<circle cx="615.6" cy="284.5" r="1.75"/>
<circle cx="615.6" cy="265.5" r="1.75"/>
<circle cx="615.6" cy="272.5" r="1.75"/>
</g>
<line x1="439.3" y1="226.0" x2="616" y2="226.0" stroke="#222" stroke-width="1.8"/>
<line x1="439.3" y1="232.3" x2="527.4" y2="232.3" stroke="#222" stroke-width="1.3"/>
<line x1="527.2" y1="234.7" x2="616" y2="234.7" stroke="#222" stroke-width="1.6"/>
<text x="532" y="225.6" font-size="20.8" text-anchor="middle">n.s.</text>
<text x="487.4" y="237.6" font-size="16" text-anchor="middle">*</text>
<text x="579" y="239.4" font-size="16" text-anchor="middle" textLength="26" lengthAdjust="spacingAndGlyphs">***</text>
<text class="sans" x="403.0" y="458.1" font-size="16.8" textLength="79.0" lengthAdjust="spacingAndGlyphs">PLEASANT</text>
<text class="sans" x="494.8" y="460.0" font-size="16.8" textLength="72.0" lengthAdjust="spacingAndGlyphs">NEUTRAL</text>
<text class="sans" x="579.2" y="459.6" font-size="16.8" textLength="103.0" lengthAdjust="spacingAndGlyphs">UNPLEASANT</text>
<line x1="410.3" y1="474.4" x2="473.3" y2="474.4" stroke="#d3101c" stroke-width="3"/>
<line x1="501" y1="474.4" x2="563.4" y2="474.4" stroke="#a0a0a0" stroke-width="3"/>
<line x1="592.2" y1="474.4" x2="654.3" y2="474.4" stroke="#5b95d5" stroke-width="3"/>
</g>
</svg></body></html>
